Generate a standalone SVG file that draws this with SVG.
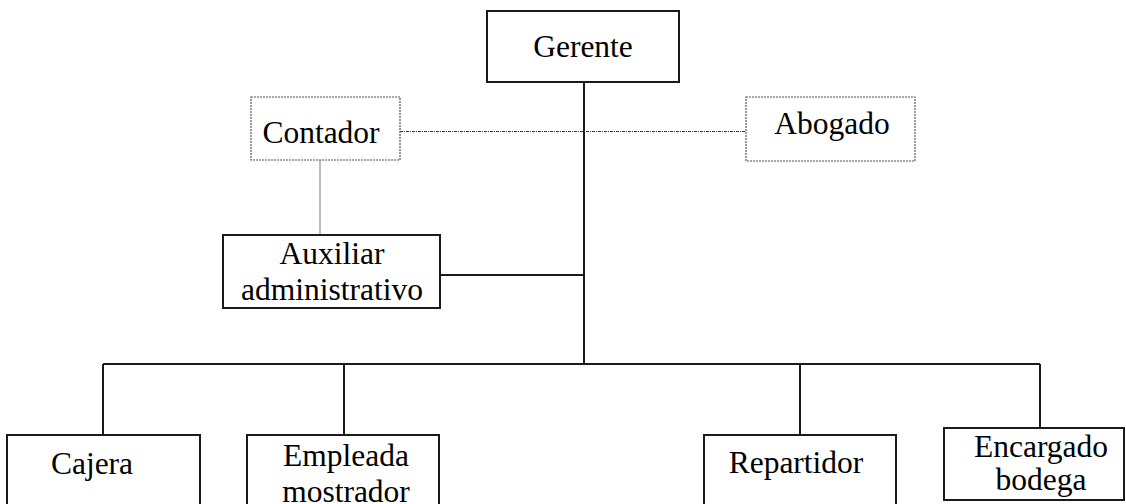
<svg xmlns="http://www.w3.org/2000/svg" width="1126" height="504" viewBox="0 0 1126 504">
<style>
.box{fill:#fff;stroke:#1a1a1a;stroke-width:2}
.dbox{fill:#fff;stroke:#555;stroke-width:1.2;stroke-dasharray:2,1}
.ln{fill:none;stroke:#1a1a1a;stroke-width:2}
.t{font-family:"Liberation Serif","Times New Roman",serif;font-size:31.5px;fill:#000;text-anchor:middle}
</style>
<rect width="1126" height="504" fill="#fff"/>
<g id="connectors">
<line class="ln" x1="584" y1="82" x2="584" y2="364"/>
<line class="ln" x1="440" y1="275" x2="584" y2="275"/>
<line class="ln" x1="103" y1="364" x2="1040" y2="364"/>
<line class="ln" x1="103" y1="364" x2="103" y2="435"/>
<line class="ln" x1="344" y1="364" x2="344" y2="435"/>
<line class="ln" x1="800" y1="364" x2="800" y2="435"/>
<line class="ln" x1="1040" y1="364" x2="1040" y2="428"/>
<line x1="400" y1="131.5" x2="746" y2="131.5" stroke="#333" stroke-width="1" stroke-dasharray="3,1,1,1"/>
<line x1="320" y1="160" x2="320" y2="235" stroke="#999" stroke-width="1.3"/>
</g>
<g id="gerente">
<rect class="box" x="487" y="11" width="192" height="71"/>
<text class="t" x="583" y="57">Gerente</text>
</g>
<g id="contador">
<rect class="dbox" x="251" y="97" width="149" height="63"/>
<text class="t" x="321" y="143">Contador</text>
</g>
<g id="abogado">
<rect class="dbox" x="746" y="97" width="169" height="64"/>
<text class="t" x="832" y="134">Abogado</text>
</g>
<g id="auxiliar">
<rect class="box" x="223" y="235" width="217" height="73"/>
<text class="t" x="332" y="264">Auxiliar</text>
<text class="t" x="332" y="300">administrativo</text>
</g>
<g id="cajera">
<rect class="box" x="7" y="435" width="193" height="80"/>
<text class="t" x="92" y="474">Cajera</text>
</g>
<g id="empleada">
<rect class="box" x="247" y="435" width="192" height="80"/>
<text class="t" x="346" y="466">Empleada</text>
<text class="t" x="346" y="502">mostrador</text>
</g>
<g id="repartidor">
<rect class="box" x="704" y="435" width="192" height="80"/>
<text class="t" x="796" y="473">Repartidor</text>
</g>
<g id="encargado">
<rect class="box" x="944" y="428" width="180" height="72"/>
<text class="t" x="1041" y="457">Encargado</text>
<text class="t" x="1041" y="490">bodega</text>
</g>
</svg>
